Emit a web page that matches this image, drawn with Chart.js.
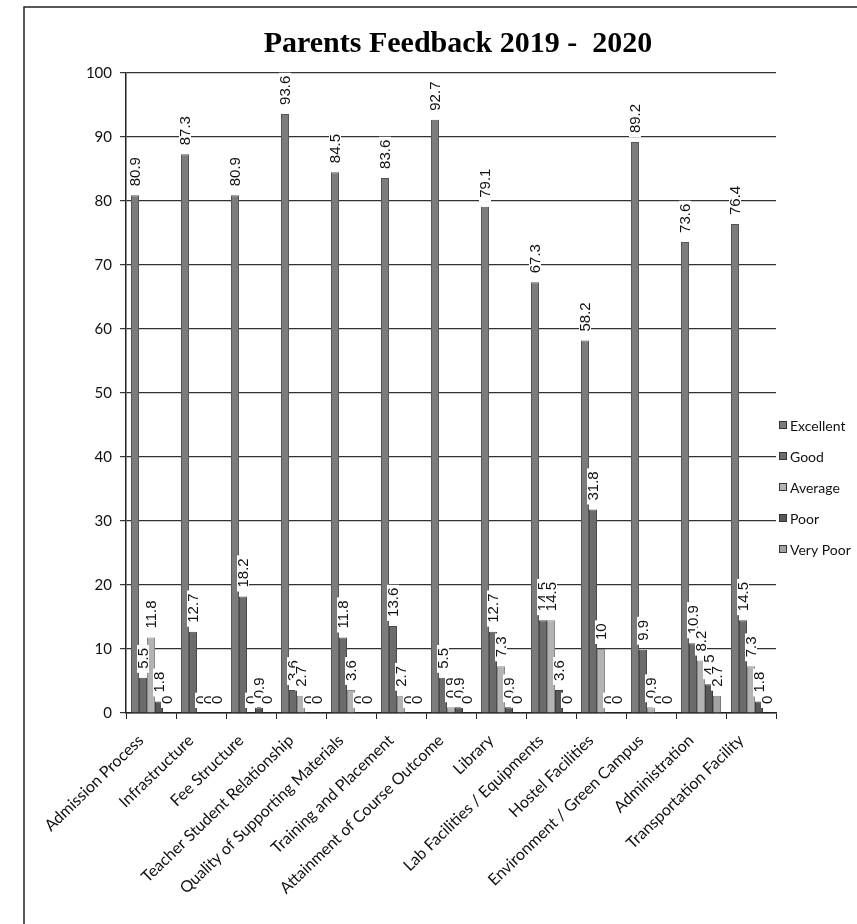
<!DOCTYPE html>
<html>
<head>
<meta charset="utf-8">
<script src="https://cdn.jsdelivr.net/npm/chart.js@4.4.1/dist/chart.umd.min.js"></script>
<style>
  html, body { margin: 0; padding: 0; background: #fff; }
  #wrap { width: 857px; height: 924px; position: relative; }
  canvas { display: block; }
</style>
</head>
<body>
<div id="wrap"><canvas id="c" width="857" height="924"></canvas></div>
<script>
const categories = [
  "Admission Process", "Infrastructure", "Fee Structure", "Teacher Student Relationship",
  "Quality of Supporting Materials", "Training and Placement", "Attainment of Course Outcome",
  "Library", "Lab Facilities / Equipments", "Hostel Facilities",
  "Environment / Green Campus", "Administration", "Transportation Facility"
];
const excellent = [80.9, 87.3, 80.9, 93.6, 84.5, 83.6, 92.7, 79.1, 67.3, 58.2, 89.2, 73.6, 76.4];
const good      = [5.5, 12.7, 18.2, 3.6, 11.8, 13.6, 5.5, 12.7, 14.5, 31.8, 9.9, 10.9, 14.5];
const average   = [11.8, 0, 0, 2.7, 3.6, 2.7, 0.9, 7.3, 14.5, 10, 0.9, 8.2, 7.3];
const poor      = [1.8, 0, 0.9, 0, 0, 0, 0.9, 0.9, 3.6, 0, 0, 4.5, 1.8];
const veryPoor  = [0, 0, 0, 0, 0, 0, 0, 0, 0, 0, 0, 2.7, 0];
const seriesNames = ["Excellent", "Good", "Average", "Poor", "Very Poor"];
const yTicks = [0, 10, 20, 30, 40, 50, 60, 70, 80, 90, 100];
const titleText = "Parents Feedback 2019 -  2020";

const fills   = ["#7c7c7c", "#6c6c6c", "#b3b3b3", "#585858", "#a3a3a3"];
const borders = ["#555555", "#4a4a4a", "#8a8a8a", "#3a3a3a", "#7a7a7a"];
const seriesData = [excellent, good, average, poor, veryPoor];

const labelPlugin = {
  id: 'vlabels',
  afterDatasetsDraw(chart) {
    const ctx = chart.ctx;
    ctx.save();
    ctx.font = '15px "Liberation Sans", Arial, sans-serif';
    chart.data.datasets.forEach((ds, di) => {
      const meta = chart.getDatasetMeta(di);
      meta.data.forEach((el, i) => {
        const txt = String(ds.data[i]);
        const w = ctx.measureText(txt).width;
        const h = 12;
        ctx.save();
        ctx.translate(el.x, el.y - 5);
        ctx.rotate(-Math.PI / 2);
        ctx.fillStyle = '#ffffff';
        ctx.fillRect(0, -h / 2, w + 7, h);
        ctx.fillStyle = '#111';
        ctx.textAlign = 'left';
        ctx.textBaseline = 'alphabetic';
        ctx.fillText(txt, 4, 5.4);
        ctx.restore();
      });
    });
    ctx.restore();
  }
};

const decorPlugin = {
  id: 'decor',
  afterDraw(chart) {
    const ctx = chart.ctx;
    ctx.save();
    // frame
    ctx.strokeStyle = '#222';
    ctx.lineWidth = 1.5;
    ctx.beginPath();
    ctx.moveTo(24, 930);
    ctx.lineTo(24, 7);
    ctx.lineTo(860, 7);
    ctx.stroke();
    // title
    ctx.fillStyle = '#000';
    ctx.font = 'bold 30px "Liberation Serif", "Times New Roman", serif';
    ctx.textAlign = 'center';
    ctx.textBaseline = 'middle';
    ctx.fillText(titleText, 458, 44);
    // legend
    ctx.font = '14px Lato, "Open Sans", sans-serif';
    ctx.textAlign = 'left';
    const y0 = 425, dy = 31;
    seriesNames.forEach((n, i) => {
      const y = y0 + i * dy;
      ctx.fillStyle = fills[i];
      ctx.fillRect(779, y - 4, 8, 8);
      ctx.strokeStyle = '#333';
      ctx.lineWidth = 1;
      ctx.strokeRect(779.5, y - 3.5, 7, 7);
      ctx.fillStyle = '#111';
      ctx.fillText(n, 790, y + 1);
    });
    ctx.restore();
  }
};

new Chart(document.getElementById('c'), {
  type: 'bar',
  data: {
    labels: categories,
    datasets: seriesNames.map((n, i) => ({
      label: n,
      data: seriesData[i],
      backgroundColor: fills[i],
      borderColor: borders[i],
      borderWidth: 1,
      barPercentage: 1.0,
      categoryPercentage: 0.8
    }))
  },
  options: {
    responsive: false,
    animation: false,
    devicePixelRatio: 1,
    layout: { padding: { left: 22, right: 81, top: 73, bottom: 0 } },
    plugins: {
      legend: { display: false },
      title: { display: false },
      tooltip: { enabled: false }
    },
    scales: {
      x: {
        afterFit(scale) { scale.height = 211; },
        grid: { drawOnChartArea: false, drawTicks: true, tickLength: 6, offset: true, color: '#222' },
        border: { color: '#222', width: 1.5 },
        ticks: {
          color: '#111',
          font: { family: 'Lato, "Open Sans", sans-serif', size: 16 },
          minRotation: 44, maxRotation: 44, autoSkip: false, padding: 12, labelOffset: -10
        }
      },
      y: {
        min: 0, max: 100,
        afterFit(scale) { scale.width = 104; },
        afterBuildTicks(scale) { scale.ticks = yTicks.map(v => ({ value: v })); },
        grid: { color: '#333', lineWidth: 1.2, drawTicks: true, tickLength: 6 },
        border: { color: '#222', width: 1.5 },
        ticks: {
          color: '#111',
          font: { family: 'Lato, "Open Sans", sans-serif', size: 15 },
          padding: 8
        }
      }
    }
  },
  plugins: [labelPlugin, decorPlugin]
});
</script>
</body>
</html>
